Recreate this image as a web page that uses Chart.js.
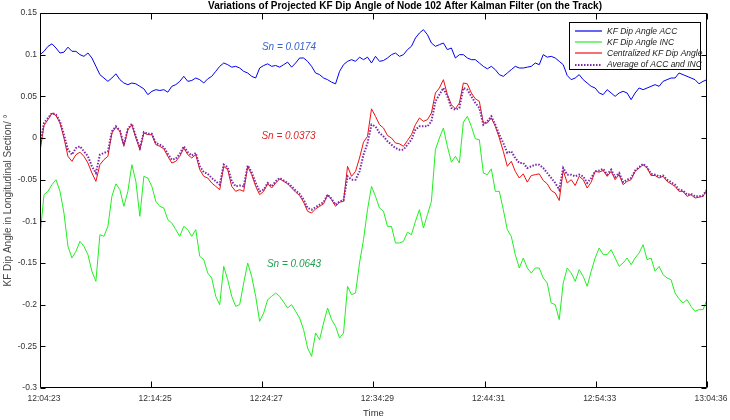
<!DOCTYPE html>
<html>
<head>
<meta charset="utf-8">
<script src="https://cdn.jsdelivr.net/npm/chart.js@4.4.1/dist/chart.umd.min.js"></script>
<style>
  html, body { margin: 0; padding: 0; background: #fff; }
  canvas { display: block; }
</style>
</head>
<body>
<canvas id="myChart" width="730" height="420"></canvas>
<script>
// tick labels of the time axis (first one is the start of the record)
const timeLabels = ["12:04:23", "12:14:25", "12:24:27", "12:34:29", "12:44:31", "12:54:33", "13:04:36"];
const yTicks = [0.15, 0.1, 0.05, 0, -0.05, -0.1, -0.15, -0.2, -0.25, -0.3];

const seriesNames = ["KF Dip Angle ACC", "KF Dip Angle INC", "Centralized KF Dip Angle", "Average of ACC and INC"];

const accValues = [
  0.100, 0.104, 0.110, 0.113, 0.108, 0.102, 0.103, 0.109, 0.104, 0.104, 0.100, 0.098, 0.102, 0.096, 0.086, 0.076, 0.072, 0.068, 0.072, 0.077, 0.070, 0.066, 0.064, 0.066, 0.065, 0.062, 0.059, 0.052,
  0.056, 0.058, 0.057, 0.058, 0.055, 0.062, 0.064, 0.068, 0.074, 0.068, 0.069, 0.072, 0.070, 0.066, 0.071, 0.074, 0.080, 0.086, 0.090, 0.088, 0.085, 0.086, 0.084, 0.080, 0.078, 0.074, 0.072, 0.084,
  0.087, 0.089, 0.086, 0.087, 0.085, 0.088, 0.091, 0.085, 0.090, 0.096, 0.096, 0.092, 0.086, 0.078, 0.076, 0.072, 0.070, 0.067, 0.065, 0.080, 0.088, 0.092, 0.094, 0.092, 0.097, 0.094, 0.097, 0.090,
  0.098, 0.092, 0.093, 0.096, 0.100, 0.102, 0.098, 0.100, 0.106, 0.110, 0.120, 0.126, 0.130, 0.124, 0.114, 0.110, 0.112, 0.114, 0.106, 0.108, 0.096, 0.100, 0.100, 0.096, 0.094, 0.094, 0.090, 0.086,
  0.083, 0.086, 0.082, 0.076, 0.074, 0.078, 0.082, 0.086, 0.084, 0.084, 0.085, 0.086, 0.090, 0.088, 0.100, 0.097, 0.098, 0.096, 0.092, 0.088, 0.075, 0.070, 0.072, 0.076, 0.070, 0.066, 0.062, 0.060,
  0.054, 0.052, 0.058, 0.054, 0.050, 0.054, 0.056, 0.054, 0.046, 0.054, 0.060, 0.058, 0.060, 0.062, 0.064, 0.062, 0.068, 0.070, 0.072, 0.072, 0.078, 0.076, 0.074, 0.072, 0.070, 0.065, 0.068, 0.070
];

const incValues = [
  -0.118, -0.068, -0.064, -0.056, -0.050, -0.064, -0.090, -0.130, -0.144, -0.136, -0.124, -0.130, -0.140, -0.160, -0.172, -0.116, -0.118, -0.106, -0.070, -0.055, -0.062, -0.082, -0.064, -0.032, -0.052, -0.094, -0.046, -0.048,
  -0.058, -0.076, -0.082, -0.084, -0.098, -0.102, -0.110, -0.118, -0.106, -0.110, -0.118, -0.110, -0.142, -0.146, -0.162, -0.168, -0.190, -0.200, -0.154, -0.170, -0.190, -0.202, -0.200, -0.174, -0.150, -0.166, -0.190, -0.220,
  -0.210, -0.194, -0.190, -0.186, -0.190, -0.197, -0.204, -0.200, -0.208, -0.216, -0.230, -0.252, -0.262, -0.234, -0.242, -0.222, -0.204, -0.218, -0.226, -0.240, -0.234, -0.178, -0.188, -0.186, -0.150, -0.122, -0.086, -0.058,
  -0.070, -0.084, -0.088, -0.106, -0.106, -0.126, -0.126, -0.124, -0.113, -0.116, -0.100, -0.086, -0.108, -0.092, -0.076, -0.014, 0.000, 0.012, -0.010, -0.029, -0.022, -0.030, 0.019, 0.026, 0.014, -0.001, -0.002, -0.042,
  -0.044, -0.037, -0.064, -0.064, -0.086, -0.110, -0.118, -0.140, -0.156, -0.144, -0.156, -0.162, -0.156, -0.156, -0.168, -0.174, -0.198, -0.200, -0.218, -0.174, -0.156, -0.162, -0.172, -0.158, -0.166, -0.178, -0.160, -0.144,
  -0.132, -0.140, -0.140, -0.134, -0.144, -0.154, -0.150, -0.144, -0.152, -0.144, -0.138, -0.128, -0.146, -0.144, -0.160, -0.154, -0.164, -0.168, -0.170, -0.186, -0.193, -0.198, -0.194, -0.202, -0.208, -0.206, -0.206, -0.194
];

const centralValues = [
  -0.016, 0.015, 0.022, 0.030, 0.027, 0.018, 0.000, -0.022, -0.028, -0.020, -0.017, -0.022, -0.030, -0.042, -0.052, -0.032, -0.026, -0.022, 0.006, 0.013, 0.008, -0.010, 0.010, 0.016, 0.000, -0.014, 0.006, 0.004,
  0.004, -0.008, -0.010, -0.013, -0.022, -0.030, -0.028, -0.022, -0.012, -0.020, -0.024, -0.020, -0.038, -0.046, -0.048, -0.054, -0.058, -0.062, -0.034, -0.038, -0.058, -0.064, -0.062, -0.064, -0.034, -0.044, -0.058, -0.068,
  -0.064, -0.055, -0.060, -0.054, -0.049, -0.052, -0.055, -0.060, -0.065, -0.069, -0.077, -0.088, -0.090, -0.085, -0.082, -0.079, -0.068, -0.074, -0.082, -0.077, -0.076, -0.034, -0.046, -0.040, -0.024, -0.005, 0.002, 0.035,
  0.026, 0.016, 0.012, 0.003, 0.000, -0.006, -0.007, -0.010, -0.003, 0.004, 0.016, 0.024, 0.020, 0.022, 0.030, 0.054, 0.060, 0.070, 0.052, 0.040, 0.035, 0.042, 0.066, 0.065, 0.054, 0.047, 0.044, 0.018,
  0.018, 0.024, 0.014, 0.000, -0.016, -0.034, -0.028, -0.040, -0.048, -0.043, -0.053, -0.045, -0.044, -0.043, -0.051, -0.055, -0.063, -0.066, -0.075, -0.039, -0.054, -0.050, -0.057, -0.046, -0.050, -0.060, -0.053, -0.040,
  -0.041, -0.039, -0.046, -0.040, -0.050, -0.044, -0.056, -0.052, -0.050, -0.040, -0.036, -0.032, -0.036, -0.045, -0.045, -0.048, -0.046, -0.052, -0.055, -0.058, -0.064, -0.064, -0.070, -0.068, -0.072, -0.071, -0.070, -0.062
];

const averageValues = [
  -0.008, 0.018, 0.024, 0.030, 0.028, 0.020, 0.004, -0.014, -0.020, -0.012, -0.010, -0.016, -0.022, -0.034, -0.042, -0.020, -0.018, -0.016, 0.008, 0.014, 0.009, -0.008, 0.011, 0.017, 0.002, -0.012, 0.007, 0.005,
  0.005, -0.006, -0.008, -0.011, -0.019, -0.026, -0.025, -0.019, -0.010, -0.017, -0.021, -0.018, -0.034, -0.041, -0.043, -0.048, -0.052, -0.056, -0.032, -0.035, -0.052, -0.058, -0.057, -0.058, -0.033, -0.041, -0.054, -0.064,
  -0.062, -0.054, -0.058, -0.052, -0.048, -0.051, -0.054, -0.058, -0.063, -0.067, -0.074, -0.084, -0.086, -0.083, -0.080, -0.077, -0.068, -0.073, -0.080, -0.076, -0.075, -0.046, -0.050, -0.050, -0.040, -0.020, -0.006, 0.016,
  0.014, 0.006, 0.002, -0.004, -0.008, -0.012, -0.014, -0.014, -0.008, -0.002, 0.010, 0.014, 0.014, 0.014, 0.020, 0.044, 0.052, 0.060, 0.050, 0.036, 0.034, 0.036, 0.060, 0.058, 0.050, 0.042, 0.036, 0.016,
  0.020, 0.026, 0.016, 0.004, -0.006, -0.018, -0.016, -0.024, -0.030, -0.030, -0.036, -0.034, -0.032, -0.032, -0.036, -0.042, -0.048, -0.054, -0.062, -0.036, -0.044, -0.044, -0.046, -0.044, -0.046, -0.054, -0.048, -0.040,
  -0.039, -0.037, -0.044, -0.038, -0.047, -0.042, -0.053, -0.050, -0.048, -0.039, -0.035, -0.031, -0.035, -0.043, -0.044, -0.046, -0.045, -0.050, -0.053, -0.056, -0.062, -0.063, -0.068, -0.067, -0.070, -0.070, -0.069, -0.062
];

// Sn labels: text, time (s from start), value
const snLabels = [
  { text: "Sn = 0.0174", t: 1349, v: 0.1095, color: "#3a62d0" },
  { text: "Sn = 0.0373", t: 1346, v: 0.002, color: "#e02828" },
  { text: "Sn = 0.0643", t: 1376, v: -0.151, color: "#20a050" }
];

const colors = ["#0000ee", "#22ee22", "#ee1111", "#7a2aa8"];
const FONT = "'Liberation Sans', Arial, Helvetica, sans-serif";

const toSeconds = s => {
  const p = s.split(":").map(Number);
  return p[0] * 3600 + p[1] * 60 + p[2];
};
const t0 = toSeconds(timeLabels[0]);
const tickSeconds = timeLabels.map(s => toSeconds(s) - t0);
const totalSeconds = tickSeconds[tickSeconds.length - 1];

const toPoints = values => {
  const step = totalSeconds / (values.length - 1);
  return values.map((v, i) => ({ x: i * step, y: v }));
};

// box, inward ticks, title, Sn texts and legend (MATLAB look)
const matlabPlugin = {
  id: "matlabLook",
  afterDatasetsDraw(chart) {
    const { ctx, chartArea: a, scales } = chart;
    const x = scales.x, y = scales.y;
    ctx.save();

    // Sn annotations
    ctx.font = "italic 10px " + FONT;
    ctx.textAlign = "center";
    ctx.textBaseline = "middle";
    snLabels.forEach(s => {
      ctx.fillStyle = s.color;
      ctx.fillText(s.text, x.getPixelForValue(s.t), y.getPixelForValue(s.v));
    });

    // axes box
    ctx.strokeStyle = "#000";
    ctx.lineWidth = 1;
    const L = Math.round(a.left) + 0.5, R = Math.round(a.right) - 0.5;
    const T = Math.round(a.top) + 0.5, B = Math.round(a.bottom) - 0.5;
    ctx.beginPath();
    ctx.rect(L, T, R - L, B - T);
    tickSeconds.forEach(t => {
      const px = Math.round(x.getPixelForValue(t)) + 0.5;
      ctx.moveTo(px, B); ctx.lineTo(px, B - 6);
      ctx.moveTo(px, T); ctx.lineTo(px, T + 6);
    });
    yTicks.forEach(v => {
      const py = Math.round(y.getPixelForValue(v)) + 0.5;
      ctx.moveTo(L, py); ctx.lineTo(L + 5, py);
      ctx.moveTo(R, py); ctx.lineTo(R - 5, py);
    });
    ctx.stroke();

    // title
    ctx.fillStyle = "#000";
    ctx.font = "bold 10px " + FONT;
    ctx.textAlign = "center";
    ctx.fillText("Variations of Projected KF Dip Angle of Node 102 After Kalman Filter (on the Track)", 405, 6);

    // legend
    const lx = 569.5, ly = 22.5, lw = 131, lh = 47;
    ctx.fillStyle = "#fff";
    ctx.fillRect(lx, ly, lw, lh);
    ctx.strokeStyle = "#000";
    ctx.lineWidth = 1;
    ctx.strokeRect(lx, ly, lw, lh);
    ctx.font = "italic 8.5px " + FONT;
    ctx.textAlign = "left";
    seriesNames.forEach((name, i) => {
      const ry = 31 + i * 11.2;
      ctx.beginPath();
      ctx.strokeStyle = colors[i];
      if (i === 3) {
        ctx.lineWidth = 2;
        ctx.setLineDash([1.5, 1.5]);
      } else {
        ctx.lineWidth = 1.2;
        ctx.setLineDash([]);
      }
      ctx.moveTo(575, Math.round(ry));
      ctx.lineTo(602, Math.round(ry));
      ctx.stroke();
      ctx.fillStyle = "#222";
      ctx.fillText(name, 607, ry + 0.5);
    });
    ctx.restore();
  }
};

const printChart = () => {
  const ctx = document.getElementById("myChart").getContext("2d");
  const valueSets = [accValues, incValues, centralValues, averageValues];
  const chart = new Chart(ctx, {
    type: "line",
    data: {
      datasets: valueSets.map((vals, i) => ({
        label: seriesNames[i],
        data: toPoints(vals),
        borderColor: colors[i],
        borderWidth: i === 3 ? 2 : 1,
        borderDash: i === 3 ? [1.5, 1.5] : [],
        pointRadius: 0,
        tension: 0,
        fill: false,
        order: 3 - i
      }))
    },
    options: {
      responsive: false,
      animation: false,
      devicePixelRatio: 1,
      layout: { padding: { top: 13, right: 23, left: 0, bottom: 0 } },
      plugins: {
        legend: { display: false },
        tooltip: { enabled: false },
        title: { display: false }
      },
      scales: {
        x: {
          type: "linear",
          min: 0,
          max: totalSeconds,
          afterBuildTicks: scale => { scale.ticks = tickSeconds.map(v => ({ value: v })); },
          afterFit: scale => { scale.height = 32; },
          grid: { display: false, drawTicks: false },
          border: { display: false },
          ticks: {
            padding: 6,
            labelOffset: 4,
            maxRotation: 0,
            autoSkip: false,
            color: "#333",
            font: { family: FONT, size: 8.5 },
            callback: v => timeLabels[tickSeconds.indexOf(v)]
          },
          title: {
            display: true,
            text: "Time",
            color: "#333",
            font: { family: FONT, size: 9.5 },
            padding: { top: 0, bottom: 1 }
          }
        },
        y: {
          min: -0.3,
          max: 0.15,
          afterBuildTicks: scale => { scale.ticks = yTicks.map(v => ({ value: v })); },
          afterFit: scale => { scale.width = 40; },
          grid: { display: false, drawTicks: false },
          border: { display: false },
          ticks: {
            padding: 3,
            color: "#333",
            font: { family: FONT, size: 8.5 },
            callback: v => String(Number(v.toFixed(2)))
          },
          title: {
            display: true,
            text: "KF Dip Angle in Longitudinal Section/ °",
            color: "#444",
            font: { family: FONT, size: 10 },
            padding: { top: 2, bottom: 0 }
          }
        }
      }
    },
    plugins: [matlabPlugin]
  });
  return chart;
};

printChart();
</script>
</body>
</html>
